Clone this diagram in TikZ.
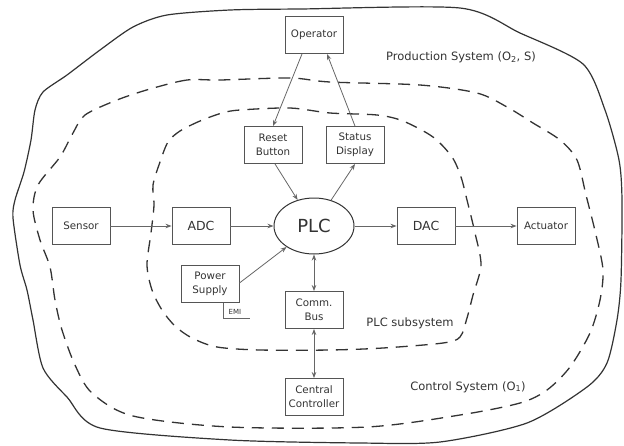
\documentclass[tikz,border=0pt]{standalone}
\usepackage{fontspec}
\setmainfont{DejaVu Sans}
\usetikzlibrary{arrows.meta,shapes.geometric}

\definecolor{ink}{HTML}{333333}
\definecolor{boxline}{HTML}{555555}
\definecolor{wire}{HTML}{666666}

\begin{document}
\begin{tikzpicture}[x=1pt,y=-1pt,
  blk/.style={draw=boxline,line width=0.9pt,minimum width=58pt,minimum height=37pt,
    inner sep=0pt,align=center,text=ink,font=\fontsize{10.3}{14}\selectfont},
  bigblk/.style={blk,font=\fontsize{12.5}{15}\selectfont},
  core/.style={ellipse,draw=ink,line width=1pt,minimum width=80pt,minimum height=56pt,
    inner sep=0pt,text=ink,font=\fontsize{18}{20}\selectfont},
  flow/.style={draw=wire,line width=0.8pt,-{Stealth[length=6pt,width=4.5pt]}},
  biflow/.style={draw=wire,line width=0.8pt,{Stealth[length=6pt,width=4.5pt]}-{Stealth[length=6pt,width=4.5pt]}},
  boundary/.style={draw=ink,line width=1.2pt,line join=round},
  zone/.style={draw=ink,line width=1.3pt,dash pattern=on 12pt off 8pt},
  zonelabel/.style={text=ink,font=\fontsize{11.5}{13}\selectfont}]

\useasboundingbox (0,0) rectangle (624,445);

% production system outline
\path[boundary] plot[smooth cycle,tension=0.45] coordinates {
  (230,10) (167,15) (133,27) (100,50) (67,75) (43,92) (35,110) (31,140)
  (24,172) (15,200) (13,218) (20,265) (27,290) (33,320) (43,368) (67,397)
  (100,428) (230,440) (360,443) (440,442) (527,423) (587,387) (607,363)
  (617,320) (621,280) (622,200) (619,160) (605,110) (583,64) (520,33)
  (460,8) (300,9)};

% control system boundary
\path[zone] plot[smooth cycle,tension=0.5] coordinates {
  (220,80) (187,80) (150,89) (117,100) (85,115) (73,133) (60,157) (38,185)
  (33,210) (40,240) (50,267) (55,300) (62,330) (75,365) (92,393) (133,416)
  (230,427) (367,427) (460,415) (520,403) (547,390) (570,367) (590,333)
  (600,300) (603,270) (596,235) (586,195) (577,160) (560,140) (533,123)
  (507,107) (477,93) (420,85) (330,82) (290,78)};

% PLC subsystem boundary
\path[zone] plot[smooth cycle,tension=0.5] coordinates {
  (222,113) (200,121) (180,131) (168,142) (160,162) (153,185) (154,205)
  (151,233) (147,265) (152,290) (162,310) (175,326) (192,338) (217,347)
  (260,350) (330,350) (383,348) (443,343) (460,337) (467,318) (473,295)
  (481,265) (475,233) (467,200) (461,177) (452,157) (433,137) (403,121)
  (377,115) (330,113) (290,108) (240,110)};

% blocks
\node[blk] (op) at (314,35) {Operator};
\node[blk] (rb) at (273,145) {Reset\\Button};
\node[blk] (sd) at (355,145) {Status\\Display};
\node[core] (plc) at (314,226) {PLC};
\node[blk] (sen) at (81,226) {Sensor};
\node[bigblk] (adc) at (201,226) {ADC};
\node[bigblk] (dac) at (426,226) {DAC};
\node[blk] (act) at (546,226) {Actuator};
\node[blk] (ps) at (210,284) {Power\\Supply};
\node[blk] (cb) at (314,310) {Comm.\\Bus};
\node[blk] (cc) at (314,397) {Central\\Controller};

% EMI tag under the power supply
\draw[draw=wire,line width=0.8pt] ([xshift=-16pt]ps.south east) |- ++(27,15) coordinate (emiend);
\node[text=ink,font=\fontsize{7}{8}\selectfont] (emi) at (235,311.5) {EMI};

% signal flow
\draw[flow] ([xshift=-12pt]op.south) -- (rb.north);
\draw[flow] (sd.north) -- ([xshift=13pt]op.south);
\draw[flow] ([xshift=2pt]rb.south) -- (plc);
\draw[flow] (plc) -- (sd.south);
\draw[flow] (sen) -- (adc);
\draw[flow] (adc) -- (plc);
\draw[flow] (plc) -- (dac);
\draw[flow] (dac) -- (act);
\draw[flow] ([yshift=1pt]ps.east) -- (plc);
\draw[biflow] (plc) -- (cb);
\draw[biflow] (cb) -- (cc);

% region labels
\node[zonelabel] (lprod) at (461,57) {Production System (O\textsubscript{2}, S)};
\node[zonelabel] (lplc) at (410,323) {PLC subsystem};
\node[zonelabel] (lctrl) at (468,387) {Control System (O\textsubscript{1})};

\end{tikzpicture}
\end{document}
